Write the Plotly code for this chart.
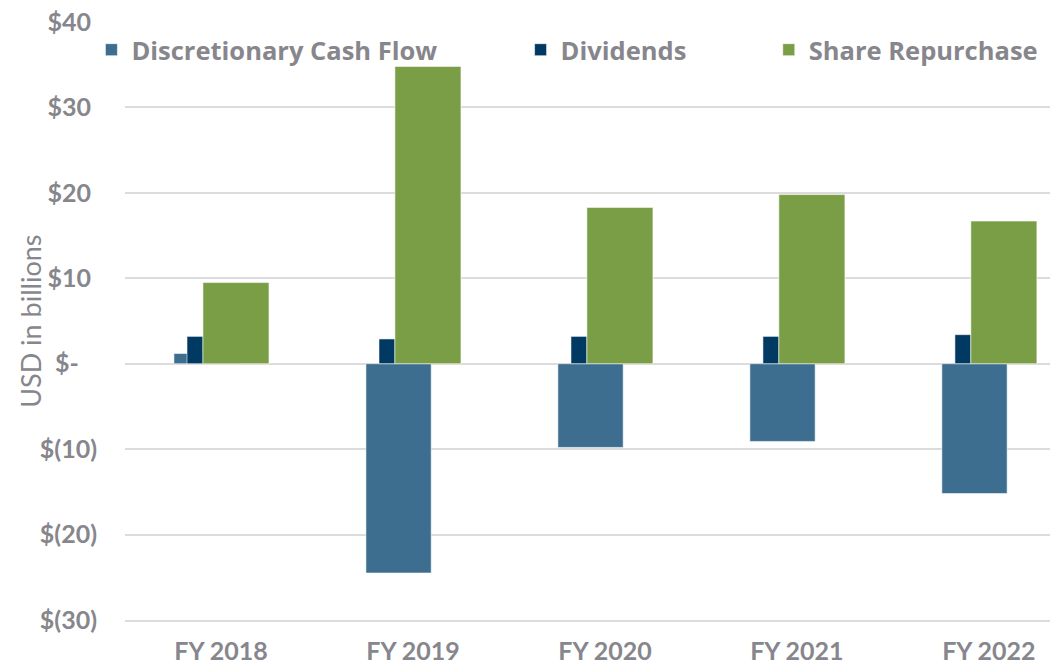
import plotly.graph_objects as go

years = ["FY 2018", "FY 2019", "FY 2020", "FY 2021", "FY 2022"]
discretionary_cf = [1.2, -24.5, -9.8, -9.1, -15.2]
dividends = [3.2, 2.9, 3.2, 3.2, 3.4]
share_repurchase = [9.5, 34.8, 18.3, 19.8, 16.7]

tick_vals = [40, 30, 20, 10, 0, -10, -20, -30]
tick_text = ["$40\u00a0", "$30\u00a0", "$20\u00a0", "$10\u00a0", "$-\u00a0\u00a0\u00a0",
             "$(10)", "$(20)", "$(30)"]

DCF_COLOR = "#3d6e8f"
DIV_COLOR = "#003a62"
REP_COLOR = "#7a9e45"
TEXT_GRAY = "#86868c"
GRID = "#dcdcdc"
FONT = "Lato, Roboto, sans-serif"
LEGEND_FONT = "Open Sans, Lato, sans-serif"

fig = go.Figure()

# (values, name, color, offset, width, legend id)
series = [
    (discretionary_cf, "Discretionary Cash Flow", DCF_COLOR, -0.245, 0.34, "legend"),
    (dividends, "Dividends", DIV_COLOR, -0.177, 0.083, "legend2"),
    (share_repurchase, "Share Repurchase", REP_COLOR, -0.094, 0.344, "legend3"),
]
for vals, name, color, off, w, leg in series:
    fig.add_trace(
        go.Bar(
            x=years,
            y=vals,
            name=name,
            offset=off,
            width=w,
            marker={"color": color, "line": {"color": "rgba(255,255,255,0.55)", "width": 1}},
            legend=leg,
            showlegend=True,
        )
    )

legend_style = {
    "orientation": "h",
    "yanchor": "middle",
    "xanchor": "left",
    "y": 0.953,
    "bgcolor": "rgba(0,0,0,0)",
    "font": {"family": LEGEND_FONT, "size": 25.5, "color": TEXT_GRAY, "weight": "bold"},
    "itemwidth": 30,
}
fig.update_layout(
    showlegend=True,
    legend={**legend_style, "x": -0.036},
    legend2={**legend_style, "x": 0.424},
    legend3={**legend_style, "x": 0.690},
)

fig.add_annotation(
    text="USD in billions",
    textangle=-90,
    xref="paper",
    yref="paper",
    x=-0.102,
    y=0.5,
    xanchor="center",
    yanchor="middle",
    showarrow=False,
    font={"family": FONT, "size": 27, "color": TEXT_GRAY},
)

# the page body has an 8px margin, so the figure is 8px smaller than the window
fig.update_layout(
    width=1050,
    height=659,
    barmode="overlay",
    plot_bgcolor="white",
    paper_bgcolor="white",
    margin={"l": 117, "r": 0, "t": 14, "b": 47, "autoexpand": False},
    xaxis={
        "range": [-0.5, 4.36],
        "automargin": False,
        "showgrid": False,
        "showline": True,
        "linecolor": GRID,
        "linewidth": 2,
        "ticks": "outside",
        "ticklen": 8,
        "tickcolor": "rgba(0,0,0,0)",
        "ticklabeloverflow": "allow",
        "tickfont": {"family": FONT, "size": 25, "color": TEXT_GRAY, "weight": "bold"},
    },
    yaxis={
        "range": [-30, 40],
        "automargin": False,
        "tickvals": tick_vals,
        "ticktext": tick_text,
        "showgrid": True,
        "gridcolor": GRID,
        "gridwidth": 2,
        "zeroline": False,
        "ticks": "outside",
        "ticklen": 22,
        "tickcolor": "rgba(0,0,0,0)",
        "ticklabeloverflow": "allow",
        "tickfont": {"family": FONT, "size": 25, "color": TEXT_GRAY, "weight": "bold"},
    },
)

fig.write_html("out.html")
